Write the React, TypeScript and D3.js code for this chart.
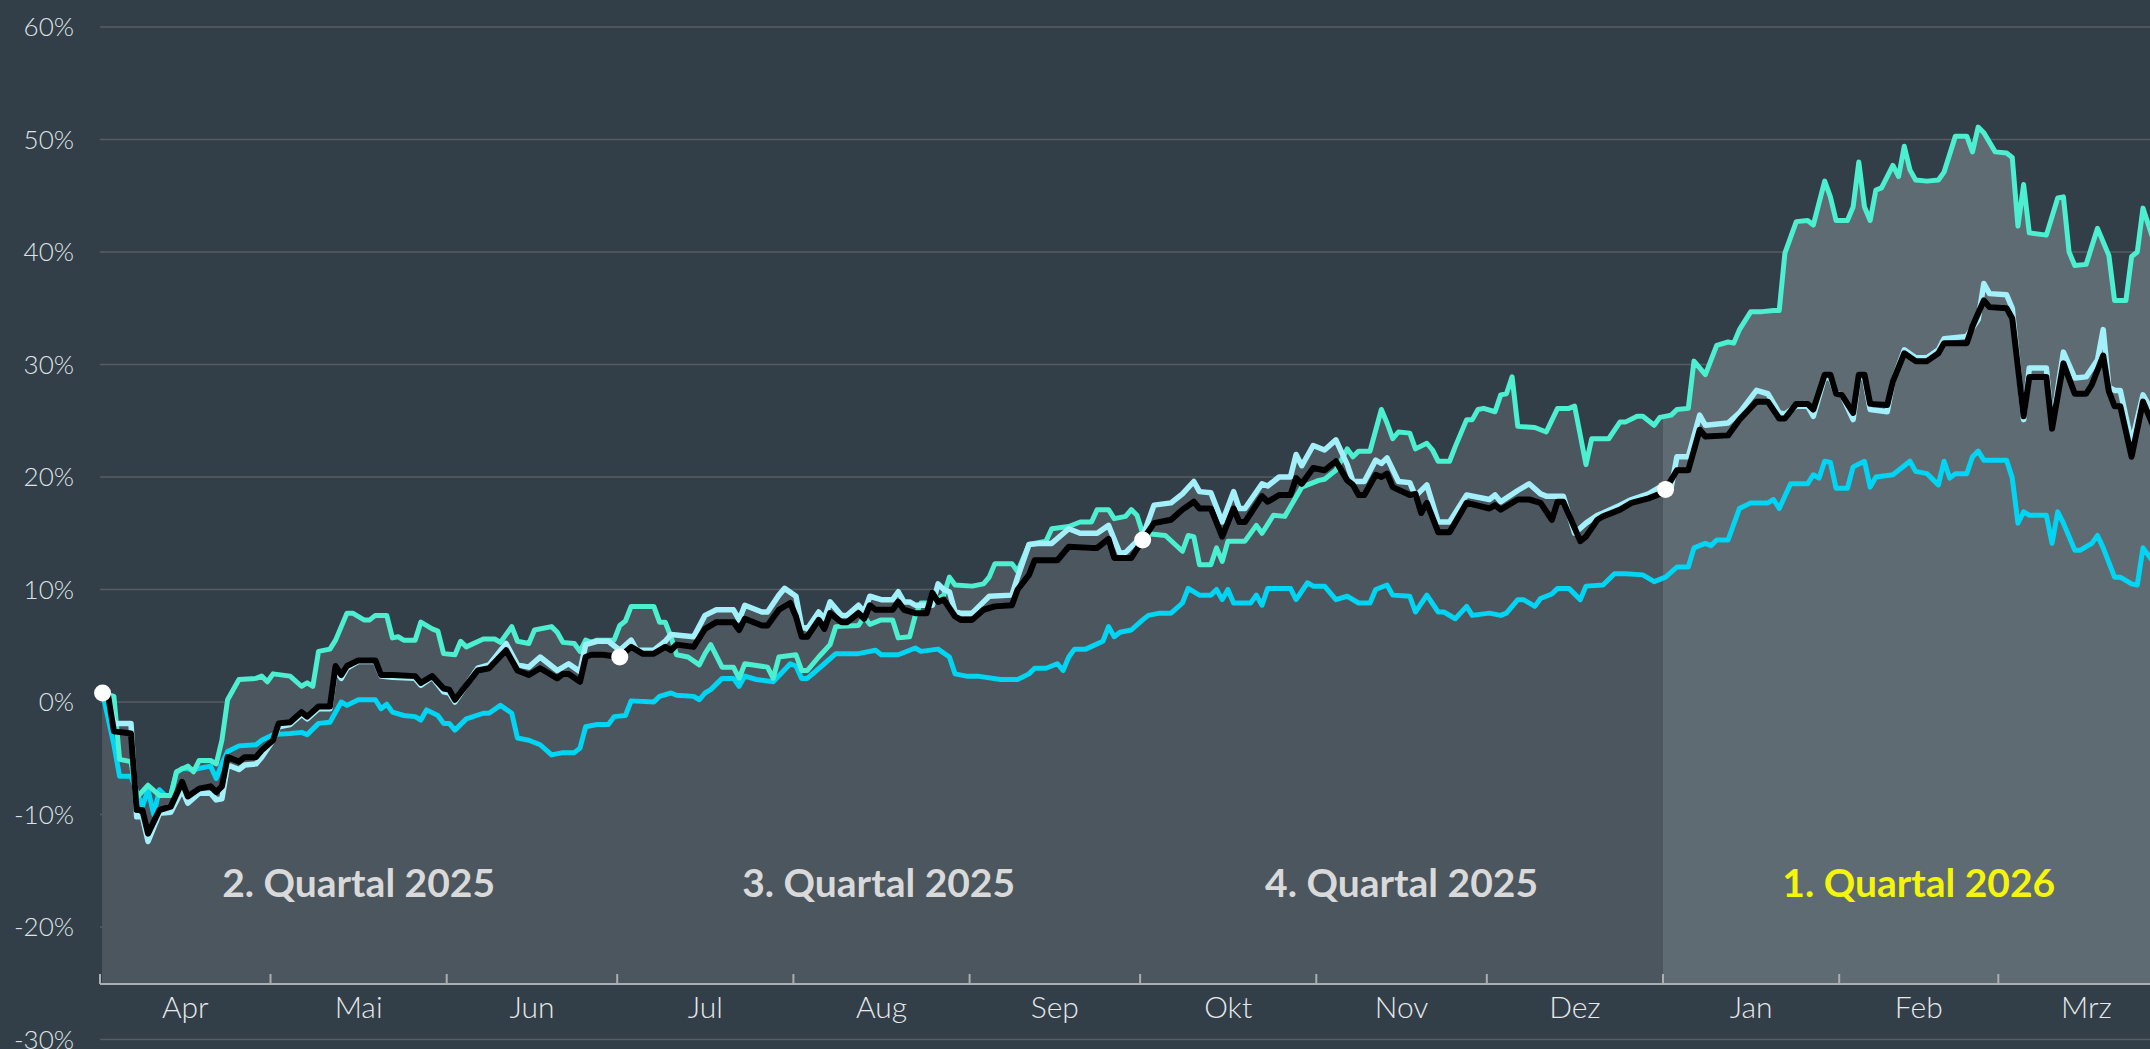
import React from 'react';
import * as d3 from 'd3';

// x values: days since 1 Apr 2025; y values: performance in %
const START = new Date(2025, 3, 1);
const MONTH_LABELS = ['Apr', 'Mai', 'Jun', 'Jul', 'Aug', 'Sep', 'Okt', 'Nov', 'Dez', 'Jan', 'Feb', 'Mrz'];
const Y_TICKS = [60, 50, 40, 30, 20, 10, 0, -10, -20, -30];
const QUARTER_LABELS = ['2. Quartal 2025', '3. Quartal 2025', '4. Quartal 2025', '1. Quartal 2026'];
const QUARTER_STARTS = ['2025-04-01', '2025-07-01', '2025-10-01', '2026-01-01', '2026-04-01'];
const ACTIVE_QUARTER = 3;
const QUARTER_MARKS: [number, number][] = [[0, 0.8], [91, 4.0], [183, 14.4], [275, 18.9]];

const GREEN: [number, number][] = [[0,0.8],[2,0.5],[3,-5.1],[5,-5.3],[6,-8.5],[8,-7.4],[10,-8.3],[12,-8.3],[13,-6.2],[15,-5.7],[16,-6.2],[17,-5.2],[19,-5.2],[20,-5.5],[21,-3.4],[22,0.2],[24,2.0],[27,2.1],[28,2.3],[29,1.8],[30,2.5],[33,2.3],[35,1.4],[36,1.7],[37,1.4],[38,4.5],[40,4.7],[41,5.5],[43,7.9],[44,7.9],[46,7.3],[47,7.3],[48,7.7],[50,7.7],[51,5.7],[52,5.8],[53,5.5],[55,5.5],[56,7.1],[58,6.5],[59,6.3],[60,4.3],[62,4.2],[63,5.4],[64,4.9],[67,5.6],[69,5.6],[70,5.3],[72,6.7],[73,5.4],[75,5.2],[76,6.4],[79,6.7],[80,6.2],[81,5.3],[83,5.2],[84,4.5],[85,5.5],[86,5.3],[87,5.5],[90,5.5],[91,6.8],[92,7.2],[93,8.5],[97,8.5],[98,7.1],[99,7.1],[100,5.8],[101,4.2],[103,4.0],[105,3.3],[106,4.3],[107,5.1],[109,3.1],[111,3.1],[112,2.1],[113,3.4],[117,3.1],[118,2.1],[119,4.0],[122,4.2],[123,2.8],[124,2.8],[126,4.0],[128,5.1],[129,6.7],[133,6.8],[134,7.6],[135,6.9],[137,7.3],[139,7.3],[140,5.7],[142,5.8],[143,7.7],[144,8.8],[146,8.8],[148,9.5],[149,11.1],[150,10.4],[153,10.3],[155,10.5],[156,11.1],[157,12.3],[160,12.3],[161,11.6],[163,14.0],[166,14.3],[167,15.4],[170,15.6],[172,16.0],[174,16.0],[175,17.1],[177,17.1],[178,16.3],[180,16.5],[181,17.1],[182,16.6],[183,15.0],[187,14.8],[190,13.4],[191,14.8],[192,14.7],[193,12.2],[195,12.2],[196,13.7],[197,12.5],[198,14.3],[201,14.3],[203,15.7],[204,15.0],[206,16.6],[208,16.5],[211,19.1],[214,19.7],[215,19.8],[217,20.6],[219,22.5],[220,21.8],[221,22.3],[223,22.3],[225,26.0],[226,24.8],[227,23.4],[228,24.0],[230,23.9],[231,22.5],[233,23.0],[234,22.4],[235,21.4],[237,21.4],[238,22.7],[240,25.1],[241,25.1],[242,26.0],[243,26.1],[245,25.8],[246,27.3],[247,27.4],[248,28.9],[249,24.5],[252,24.4],[254,24.0],[256,26.1],[258,26.1],[259,26.3],[261,21.1],[262,23.4],[265,23.4],[267,24.9],[268,24.9],[270,25.4],[271,25.4],[273,24.6],[274,25.3],[276,25.5],[277,26.0],[279,26.1],[280,30.3],[282,29.1],[284,31.7],[286,32.0],[287,31.9],[288,33.1],[290,34.7],[292,34.7],[294,34.8],[295,34.8],[296,39.9],[298,42.7],[300,42.8],[301,42.4],[303,46.3],[304,44.9],[305,42.8],[307,42.8],[308,44.0],[309,48.0],[310,44.0],[311,42.8],[312,45.5],[313,45.7],[315,47.7],[316,46.7],[317,49.4],[318,47.3],[319,46.4],[321,46.3],[323,46.4],[324,47.1],[326,50.3],[328,50.3],[329,48.9],[330,51.1],[331,50.6],[333,48.9],[335,48.8],[336,48.4],[337,42.3],[338,46.0],[339,41.7],[342,41.5],[344,44.8],[345,44.9],[346,40.0],[347,38.8],[349,38.9],[351,42.1],[353,39.7],[354,35.7],[356,35.7],[357,39.6],[358,40.0],[359,43.9],[361,40.8]];

const FUND: [number, number][] = [[0,0.8],[1,0.5],[2,-2.6],[5,-2.8],[6,-9.6],[7,-9.6],[8,-11.7],[10,-9.6],[12,-9.3],[14,-7.1],[15,-8.4],[17,-7.7],[19,-7.5],[20,-8.0],[21,-7.5],[22,-4.9],[24,-5.3],[25,-4.9],[27,-4.9],[28,-4.3],[30,-3.4],[31,-1.9],[33,-1.8],[35,-0.9],[36,-1.3],[38,-0.4],[40,-0.4],[41,3.2],[42,2.4],[43,3.2],[45,3.7],[48,3.7],[49,2.4],[51,2.4],[55,2.3],[56,1.7],[58,2.3],[60,1.2],[61,1.1],[62,0.2],[64,1.5],[66,2.8],[68,3.0],[71,4.6],[73,2.8],[75,2.4],[77,3.0],[80,2.1],[81,2.5],[82,2.5],[84,1.8],[85,4.0],[86,4.2],[88,4.2],[91,4.0],[93,4.9],[95,4.3],[97,4.3],[99,4.9],[100,4.6],[101,5.1],[104,4.9],[106,6.5],[108,7.1],[111,7.1],[112,6.4],[113,7.4],[116,6.8],[117,6.8],[119,8.2],[121,8.8],[122,7.6],[123,5.8],[124,5.8],[126,7.3],[127,6.5],[128,7.9],[130,7.1],[131,7.1],[133,7.9],[134,7.4],[135,8.6],[136,8.2],[139,8.2],[140,8.9],[141,8.2],[143,7.9],[145,7.9],[146,9.7],[147,8.9],[148,9.1],[150,7.6],[151,7.3],[153,7.3],[155,8.2],[157,8.5],[160,8.6],[161,10.0],[163,11.3],[164,12.6],[168,12.6],[170,13.8],[174,13.7],[175,13.7],[177,14.5],[178,12.8],[181,12.8],[183,14.4],[185,15.9],[188,16.2],[190,17.1],[192,17.8],[193,17.2],[195,17.2],[197,14.7],[199,17.2],[200,16.0],[201,16.0],[204,18.3],[205,17.8],[207,18.4],[209,18.4],[210,19.9],[211,19.4],[213,20.8],[215,20.6],[217,21.4],[219,19.7],[220,19.3],[221,18.4],[222,18.4],[224,20.2],[225,20.0],[226,20.3],[227,19.1],[230,18.4],[231,18.5],[232,16.8],[233,17.7],[235,15.1],[237,15.1],[240,17.7],[244,17.2],[245,17.5],[246,17.1],[249,18.0],[251,18.0],[253,17.7],[255,16.2],[256,17.8],[257,17.8],[260,14.3],[261,14.7],[263,16.2],[264,16.5],[267,17.1],[269,17.7],[272,18.1],[274,18.5],[275,18.9],[277,20.6],[279,20.6],[281,24.2],[282,23.6],[286,23.7],[288,25.1],[291,26.7],[293,26.7],[295,25.2],[296,25.2],[298,26.5],[300,26.5],[301,26.0],[303,29.1],[304,29.1],[305,27.4],[306,27.3],[308,25.7],[309,29.1],[310,29.1],[311,26.5],[314,26.4],[315,28.5],[317,31.0],[319,30.3],[321,30.3],[323,31.0],[324,31.9],[328,31.9],[329,33.4],[331,35.7],[332,35.1],[335,35.0],[336,34.1],[338,25.4],[339,28.9],[342,28.9],[343,24.3],[345,30.1],[347,27.4],[349,27.4],[350,28.2],[352,30.8],[353,27.6],[354,26.3],[355,26.3],[357,21.8],[359,26.7],[361,24.3]];

const LIGHTBLUE: [number, number][] = [[0,0.8],[1,0.5],[2,-1.9],[5,-1.9],[6,-10.2],[7,-10.2],[8,-12.4],[10,-9.9],[12,-9.8],[14,-7.8],[15,-9.0],[17,-8.1],[19,-8.1],[20,-8.7],[21,-8.6],[22,-5.6],[24,-6.0],[25,-5.6],[27,-5.5],[28,-4.9],[30,-3.4],[31,-2.2],[33,-2.0],[35,-1.1],[36,-1.5],[38,-0.6],[40,-0.6],[41,2.9],[42,2.1],[43,3.0],[45,3.6],[48,3.6],[49,2.3],[51,2.2],[55,2.1],[56,1.5],[58,2.2],[60,0.9],[61,0.8],[62,0.0],[64,1.5],[66,3.0],[68,3.3],[71,5.2],[73,3.3],[75,3.1],[77,4.0],[80,2.8],[82,3.4],[84,2.7],[85,5.1],[87,5.4],[89,5.4],[91,4.6],[93,5.5],[94,4.6],[97,4.6],[99,5.4],[100,6.0],[104,5.8],[106,7.7],[108,8.2],[111,8.2],[112,7.3],[113,8.6],[116,8.0],[117,8.0],[119,9.5],[120,10.1],[122,9.4],[123,6.7],[124,6.5],[126,8.0],[127,7.4],[128,8.9],[130,7.7],[131,7.7],[133,8.6],[134,8.0],[135,9.4],[137,9.1],[139,9.1],[140,9.8],[141,8.9],[142,8.9],[143,8.6],[146,8.6],[147,10.5],[148,10.0],[149,9.8],[150,8.0],[151,7.9],[153,7.9],[155,8.9],[156,9.4],[160,9.5],[161,11.1],[163,14.0],[165,14.1],[167,14.1],[170,15.4],[172,15.0],[175,15.0],[177,15.7],[179,13.2],[180,13.3],[182,14.3],[183,14.7],[185,17.5],[188,17.7],[190,18.5],[192,19.6],[193,18.7],[195,18.6],[197,16.0],[199,18.7],[200,17.2],[201,17.2],[204,19.4],[205,19.2],[207,20.0],[209,20.0],[210,22.0],[211,21.0],[213,22.8],[215,22.4],[217,23.3],[219,21.1],[220,19.6],[222,19.6],[224,21.5],[225,21.2],[226,21.7],[228,19.6],[230,19.5],[231,18.3],[233,19.3],[235,16.0],[237,16.0],[240,18.4],[244,18.0],[245,18.4],[246,17.8],[249,18.8],[251,19.4],[253,18.5],[254,18.3],[257,18.3],[259,15.0],[261,15.9],[263,16.6],[264,16.8],[267,17.5],[269,18.0],[272,18.5],[274,19.1],[276,19.1],[277,21.8],[279,21.8],[281,25.5],[282,24.6],[286,24.8],[288,25.7],[291,27.7],[293,27.4],[295,25.7],[296,25.6],[298,26.3],[300,26.3],[301,25.4],[303,28.9],[304,28.8],[305,27.4],[306,27.3],[308,25.1],[309,28.9],[310,28.8],[311,26.0],[314,25.8],[315,28.5],[317,31.3],[319,30.6],[321,30.6],[323,31.3],[324,32.3],[328,32.5],[330,34.0],[331,37.2],[332,36.3],[335,36.2],[336,35.0],[338,25.1],[339,29.7],[342,29.7],[343,24.6],[345,31.1],[347,28.8],[349,28.9],[351,30.4],[352,33.1],[353,28.0],[354,27.7],[355,27.7],[357,23.0],[359,27.3],[361,25.5]];

const CYAN: [number, number][] = [[0,0.8],[2,-3.8],[3,-6.6],[5,-6.6],[7,-9.3],[8,-7.8],[9,-10.0],[10,-7.8],[11,-8.3],[12,-8.3],[13,-6.3],[14,-5.9],[16,-6.0],[19,-5.7],[20,-6.8],[21,-5.5],[22,-4.4],[24,-3.9],[27,-3.8],[28,-3.4],[30,-2.9],[33,-2.8],[35,-2.7],[36,-2.9],[38,-1.9],[40,-1.8],[42,0.0],[43,-0.3],[45,0.2],[48,0.2],[49,-0.6],[50,-0.2],[51,-0.9],[53,-1.2],[55,-1.3],[56,-1.6],[57,-0.7],[59,-1.2],[60,-1.9],[61,-1.9],[62,-2.5],[64,-1.5],[67,-1.0],[68,-1.0],[70,-0.3],[72,-1.0],[73,-3.2],[75,-3.4],[77,-3.8],[79,-4.7],[81,-4.5],[83,-4.5],[84,-4.1],[85,-2.2],[87,-2.0],[89,-2.0],[90,-1.3],[92,-1.2],[93,0.1],[97,0.0],[98,0.5],[100,0.8],[101,0.6],[104,0.5],[105,0.2],[106,0.8],[107,1.1],[109,2.1],[111,2.1],[112,1.4],[113,2.3],[115,2.0],[118,1.8],[121,3.4],[122,3.2],[123,2.1],[124,2.1],[127,3.4],[129,4.3],[133,4.3],[136,4.6],[137,4.2],[140,4.2],[143,4.8],[144,4.5],[147,4.7],[149,4.0],[150,2.5],[152,2.3],[154,2.3],[158,2.0],[161,2.0],[163,2.5],[164,3.0],[166,3.0],[168,3.4],[169,2.8],[170,4.0],[171,4.7],[173,4.7],[176,5.4],[177,6.7],[178,5.8],[179,6.2],[181,6.4],[183,7.3],[184,7.7],[186,7.9],[188,7.9],[190,8.8],[191,10.1],[193,9.5],[195,9.5],[196,10.0],[197,9.1],[198,10.0],[199,8.8],[202,8.8],[203,9.5],[204,8.6],[205,10.1],[209,10.1],[210,9.1],[212,10.6],[213,10.3],[215,10.3],[217,9.1],[219,9.4],[221,8.8],[223,8.8],[224,10.0],[226,10.4],[227,9.5],[230,9.4],[231,8.0],[233,9.5],[235,8.0],[236,8.0],[238,7.4],[240,8.5],[241,7.7],[244,7.9],[246,7.7],[247,7.9],[249,9.1],[250,9.1],[252,8.5],[253,9.2],[255,9.6],[256,10.1],[258,10.1],[260,9.1],[261,10.3],[264,10.4],[266,11.4],[268,11.4],[271,11.3],[273,10.7],[275,11.1],[277,12.0],[279,12.0],[280,13.7],[282,14.1],[283,13.9],[284,14.4],[286,14.4],[288,17.2],[290,17.7],[293,17.7],[294,18.0],[295,17.2],[297,19.4],[300,19.4],[301,20.2],[302,19.9],[303,21.4],[304,21.3],[305,19.0],[307,19.0],[308,20.9],[310,21.4],[311,19.1],[312,20.0],[315,20.2],[318,21.4],[319,20.5],[321,20.3],[323,19.3],[324,21.4],[325,19.9],[326,20.3],[328,20.3],[329,21.8],[330,22.3],[331,21.5],[335,21.5],[336,19.9],[337,15.9],[338,16.9],[339,16.6],[342,16.6],[343,14.1],[344,16.9],[345,15.9],[347,13.5],[348,13.5],[350,14.1],[351,14.8],[352,13.7],[354,11.1],[355,11.1],[357,10.5],[358,10.4],[359,13.7],[361,12.3]];

const SERIES = [
  { key: 'cyan', data: CYAN, color: '#00d6f3', width: 5 },
  { key: 'green', data: GREEN, color: '#4cefcf', width: 5 },
  { key: 'lightblue', data: LIGHTBLUE, color: '#a3f0fa', width: 5.5 },
  { key: 'fund', data: FUND, color: '#000000', width: 6 },
];

const W = 2150;
const H = 1049;
const AXIS_Y = 984;
const LEFT = 100;
const DAY_SHIFT = 0.45; // closing values sit just right of the day boundary

const toDate = (d: number) => new Date(START.getTime() + (d + DAY_SHIFT) * 86400000);

export default function App() {
  const x = d3.scaleTime().domain([new Date(2025, 3, 1), new Date(2026, 0, 1)]).range([100, 1663]);
  const y = d3.scaleLinear().domain([-30, 60]).range([1039.5, 27]);

  const line = d3.line<[number, number]>().x((p) => x(toDate(p[0]))).y((p) => y(p[1]));
  const area = d3
    .area<[number, number]>()
    .x((p) => x(toDate(p[0])))
    .y0(AXIS_Y)
    .y1((p) => y(p[1]));

  const months = d3.timeMonth.range(new Date(2025, 3, 1), new Date(2026, 4, 1));
  const qDates = QUARTER_STARTS.map((s) => d3.timeParse('%Y-%m-%d')(s) as Date);
  const activeX = x(qDates[ACTIVE_QUARTER]);
  const font = "Lato, 'Open Sans', sans-serif";

  return (
    <div style={{ position: 'fixed', left: 0, top: 0, width: W, height: H, overflow: 'hidden' }}>
      <svg width={W} height={H} style={{ display: 'block', background: '#323e48' }}>
        <defs>
          <linearGradient id="qfill" gradientUnits="userSpaceOnUse" x1={0} x2={W} y1={0} y2={0}>
            <stop offset={activeX / W} stopColor="#4b565e" />
            <stop offset={activeX / W} stopColor="#5e6b73" />
          </linearGradient>
        </defs>
        <rect x={0} y={0} width={W} height={H} fill="#323e48" />
        {Y_TICKS.map((t) => (
          <g key={t}>
            <line x1={LEFT} x2={W} y1={y(t)} y2={y(t)} stroke="#575c60" strokeWidth={1.5} />
            <text
              x={74}
              y={y(t)}
              dy="0.36em"
              textAnchor="end"
              fill="#dfe2e4"
              fontFamily={font}
              fontWeight={300}
              fontSize={26}
            >
              {t}%
            </text>
          </g>
        ))}
        <g>
          {SERIES.map((s) => (
            <path key={s.key} d={area(s.data) || ''} fill="url(#qfill)" />
          ))}
        </g>
        {QUARTER_LABELS.map((q, i) => {
          const cx = (x(qDates[i]) + x(qDates[i + 1])) / 2;
          return (
            <text
              key={q}
              x={cx}
              y={897}
              textAnchor="middle"
              fill={i === ACTIVE_QUARTER ? '#f5f50a' : '#d9d9d9'}
              fontFamily={font}
              fontWeight={700}
              fontSize={39}
            >
              {q}
            </text>
          );
        })}
        {SERIES.map((s) => (
          <path
            key={s.key}
            d={line(s.data) || ''}
            fill="none"
            stroke={s.color}
            strokeWidth={s.width}
            strokeLinejoin="round"
            strokeLinecap="round"
          />
        ))}
        {QUARTER_MARKS.map((m, i) => (
          <circle key={i} cx={x(toDate(m[0]))} cy={y(m[1])} r={8.5} fill="#ffffff" />
        ))}
        <line x1={LEFT} x2={W} y1={AXIS_Y} y2={AXIS_Y} stroke="#a9aeb1" strokeWidth={2} />
        {months.map((m, i) => {
          const mx = x(m);
          const next = d3.timeMonth.offset(m, 1);
          return (
            <g key={i}>
              <line x1={mx} x2={mx} y1={AXIS_Y - 10} y2={AXIS_Y} stroke="#a9aeb1" strokeWidth={2} />
              {i < MONTH_LABELS.length && (
                <text
                  x={(mx + x(next)) / 2}
                  y={1018}
                  textAnchor="middle"
                  fill="#e6e8ea"
                  fontFamily={font}
                  fontWeight={300}
                  fontSize={30}
                >
                  {MONTH_LABELS[i]}
                </text>
              )}
            </g>
          );
        })}
      </svg>
    </div>
  );
}
